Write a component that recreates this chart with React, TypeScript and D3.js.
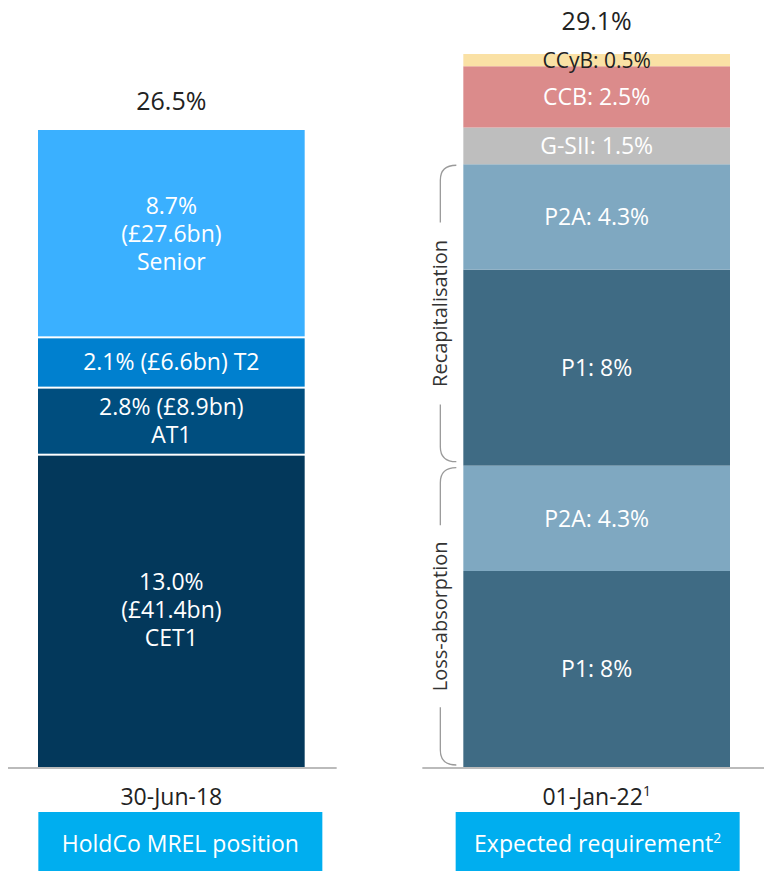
import React from 'react';
import * as d3 from 'd3';

// columns
const dates = ['30-Jun-18', '01-Jan-22'];
const dateSup = ['', '1'];
const boxLabels = ['HoldCo MREL position', 'Expected requirement'];
const boxSup = ['', '2'];
const totals = ['26.5%', '29.1%'];

// left bar: HoldCo MREL position (bottom -> top)
const leftValues = [13.0, 2.8, 2.1, 8.7];
const leftLabels = [
  ['13.0%', '(£41.4bn)', 'CET1'],
  ['2.8% (£8.9bn)', 'AT1'],
  ['2.1% (£6.6bn) T2'],
  ['8.7%', '(£27.6bn)', 'Senior'],
];
const leftColors = ['#03385b', '#004e7f', '#0080cf', '#3ab0ff'];

// right bar: expected requirement (bottom -> top)
const rightValues = [8, 4.3, 8, 4.3, 1.5, 2.5, 0.5];
const rightLabels = ['P1: 8%', 'P2A: 4.3%', 'P1: 8%', 'P2A: 4.3%', 'G-SII: 1.5%', 'CCB: 2.5%', 'CCyB: 0.5%'];
const rightColors = ['#3f6b84', '#7fa8c1', '#3f6b84', '#7fa8c1', '#bebebe', '#db8b8b', '#fae1a5'];
const rightText = ['#fff', '#fff', '#fff', '#fff', '#fff', '#fff', '#222'];
const rightFont = [23, 23, 23, 23, 23, 23, 21];

// brackets beside the right bar: segment index range [from, to)
const brackets = [
  { label: 'Loss-absorption', from: 0, to: 2 },
  { label: 'Recapitalisation', from: 2, to: 4 },
];

const W = 764;
const H = 871;
const baseY = 767;
const font = '"Open Sans", sans-serif';
const boxShift = [9, 1];

const App: React.FC = () => {
  const x = d3.scaleBand<string>().domain(dates).range([38, 730]).paddingInner(0.373).paddingOuter(0);
  const bw = x.bandwidth();

  const yL = d3.scaleLinear().domain([0, d3.sum(leftValues)]).range([baseY, 130]);
  const yR = d3.scaleLinear().domain([0, d3.sum(rightValues)]).range([baseY, 54]);

  const cumL = [0, ...Array.from(d3.cumsum(leftValues))];
  const cumR = [0, ...Array.from(d3.cumsum(rightValues))];

  const xl = x(dates[0]) as number;
  const xr = x(dates[1]) as number;
  const lineH = 28;

  const bracketX = xr - 23;
  const tipX = xr - 7;

  return (
    <svg width={W} height={H} style={{ position: 'absolute', left: 0, top: 0 }} fontFamily={font}>
      {/* left bar */}
      {leftValues.map((v, i) => {
        const y0 = yL(cumL[i]);
        const y1 = yL(cumL[i + 1]);
        const gap = i < leftValues.length - 1 ? 2 : 0;
        const cy = (y0 + y1 - gap) / 2;
        const lines = leftLabels[i];
        const firstY = cy + 8 - ((lines.length - 1) / 2) * lineH;
        return (
          <g key={'l' + i}>
            <rect x={xl} y={y1} width={bw} height={y0 - y1 - (i > 0 ? 2 : 0)} fill={leftColors[i]} />
            <text x={xl + bw / 2} y={firstY} textAnchor="middle" fontSize={23} fill="#fff">
              {lines.map((t, j) => (
                <tspan key={j} x={xl + bw / 2} dy={j === 0 ? 0 : lineH}>
                  {t}
                </tspan>
              ))}
            </text>
          </g>
        );
      })}
      <text x={xl + bw / 2} y={110} textAnchor="middle" fontSize={25} fill="#222">{totals[0]}</text>

      {/* right bar */}
      {rightValues.map((v, i) => {
        const y0 = yR(cumR[i]);
        const y1 = yR(cumR[i + 1]);
        return (
          <g key={'r' + i}>
            <rect x={xr} y={y1} width={bw} height={y0 - y1} fill={rightColors[i]} />
            <text
              x={xr + bw / 2}
              y={(y0 + y1) / 2 + rightFont[i] * 0.36}
              textAnchor="middle"
              fontSize={rightFont[i]}
              fill={rightText[i]}
            >
              {rightLabels[i]}
            </text>
          </g>
        );
      })}
      <text x={xr + bw / 2} y={30} textAnchor="middle" fontSize={25} fill="#222">{totals[1]}</text>

      {/* brackets */}
      {brackets.map((b, i) => {
        const bottom = yR(cumR[b.from]) - (b.from === 0 ? 2 : 4);
        const top = yR(cumR[b.to]) + (i === brackets.length - 1 ? 1 : 2);
        const mid = (top + bottom) / 2;
        const half = 91;
        const r = 15;
        const topPath = `M${tipX},${top} Q${bracketX},${top} ${bracketX},${top + r} L${bracketX},${mid - half}`;
        const botPath = `M${bracketX},${mid + half} L${bracketX},${bottom - r} Q${bracketX},${bottom} ${tipX},${bottom}`;
        return (
          <g key={'b' + i}>
            <path d={topPath} fill="none" stroke="#9a9a9a" strokeWidth={1.3} />
            <path d={botPath} fill="none" stroke="#9a9a9a" strokeWidth={1.3} />
            <text
              transform={`translate(${bracketX + 7},${mid}) rotate(-90)`}
              textAnchor="middle"
              fontSize={20}
              fill="#333"
            >
              {b.label}
            </text>
          </g>
        );
      })}

      {/* baselines */}
      <line x1={xl - 30} x2={xl + bw + 32} y1={baseY + 1} y2={baseY + 1} stroke="#bbb" strokeWidth={2} />
      <line x1={xr - 41} x2={W} y1={baseY + 1} y2={baseY + 1} stroke="#bbb" strokeWidth={2} />

      {/* category labels and boxes */}
      {dates.map((d, i) => {
        const cx = (x(d) as number) + bw / 2;
        const bx = cx + boxShift[i];
        return (
          <g key={'c' + i}>
            <text x={cx} y={805} textAnchor="middle" fontSize={23} fill="#222">
              {d}
              {dateSup[i] && <tspan dy={-9} fontSize={14}>{dateSup[i]}</tspan>}
            </text>
            <rect x={bx - 142} y={812} width={284} height={62} fill="#00aeef" />
            <text x={bx} y={852} textAnchor="middle" fontSize={23} fill="#fff">
              {boxLabels[i]}
              {boxSup[i] && <tspan dy={-9} fontSize={14}>{boxSup[i]}</tspan>}
            </text>
          </g>
        );
      })}
    </svg>
  );
};

export default App;
